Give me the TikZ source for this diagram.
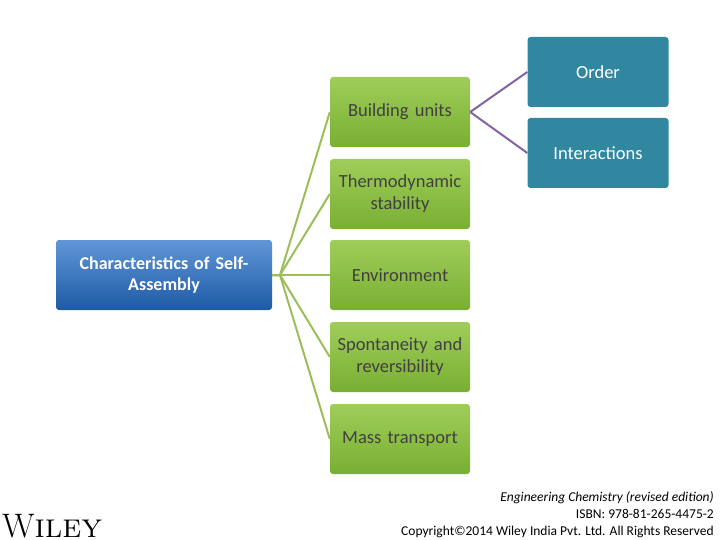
\documentclass[tikz,border=0pt]{standalone}
\usepackage{fontspec}
\setmainfont{Carlito}
\usetikzlibrary{positioning,calc}
\definecolor{bluetop}{RGB}{95,150,215}
\definecolor{bluebot}{RGB}{30,90,165}
\definecolor{greentop}{RGB}{160,205,90}
\definecolor{greenbot}{RGB}{120,175,50}
\definecolor{tealbox}{RGB}{50,135,160}
\definecolor{greenline}{RGB}{155,190,90}
\definecolor{purpleline}{RGB}{130,100,160}
\tikzset{
  mainbox/.style={rectangle,rounded corners=3pt,minimum width=216pt,minimum height=70pt,
    top color=bluetop,bottom color=bluebot,text=white,font=\fontsize{18}{21}\selectfont\bfseries,
    align=center,text width=212pt,inner sep=0pt},
  itembox/.style={rectangle,rounded corners=3pt,minimum width=140pt,minimum height=70pt,
    top color=greentop,bottom color=greenbot,text=black!75,font=\fontsize{18.5}{22}\selectfont,
    align=center,text width=140pt,inner sep=0pt},
  subbox/.style={rectangle,rounded corners=3pt,minimum width=141pt,minimum height=70pt,
    fill=tealbox,text=white,font=\fontsize{18.5}{22}\selectfont,inner sep=0pt},
  gline/.style={greenline,line width=2pt},
  pline/.style={purpleline,line width=2pt}
}
\begin{document}
\begin{tikzpicture}[x=1pt,y=-1pt]
\useasboundingbox (0,0) rectangle (720,540);
\node[mainbox] (root) at (164,275) {Characteristics of Self-\\Assembly};
\node[itembox] (units) at (400,112) {Building units};
\node[itembox] (thermo) at (400,194) {Thermodynamic\\stability};
\node[itembox] (env) at (400,275) {Environment};
\node[itembox] (spont) at (400,357) {Spontaneity and\\reversibility};
\node[itembox] (mass) at (400,439) {Mass transport};
\node[subbox] (order) at (598,72) {Order};
\node[subbox] (inter) at (598,153) {Interactions};
\coordinate (fork) at (272,275);
\foreach \n in {units,thermo,env,spont,mass}
  \draw[gline] (fork) -- ($(fork)+(8,0)$) -- (\n.west);
\draw[pline] (units.east) -- (order.west);
\draw[pline] (units.east) -- (inter.west);
\node[anchor=south east,align=right,font=\fontsize{13.5}{17}\selectfont,inner sep=2pt] (copy) at (716,540)
  {\textit{Engineering Chemistry (revised edition)}\\ISBN: 978-81-265-4475-2\\Copyright©2014 Wiley India Pvt. Ltd. All Rights Reserved};
\node[anchor=south west,font=\fontfamily{lmr}\fontsize{34}{34}\selectfont,inner sep=2pt] (logo) at (0,540) {W\textsc{iley}};
\end{tikzpicture}
\end{document}
